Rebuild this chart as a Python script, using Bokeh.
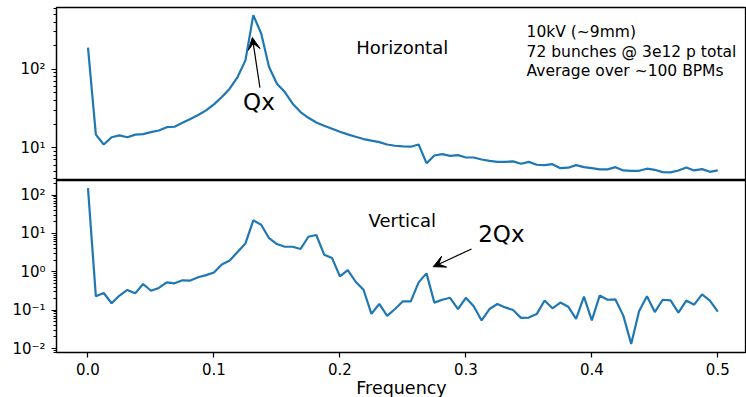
from bokeh.plotting import figure
from bokeh.layouts import column
from bokeh.models import (Label, Arrow, VeeHead, FixedTicker, CustomJSTickFormatter,
                          Range1d, ColumnDataSource, PrintfTickFormatter)
from bokeh.embed import file_html
from bokeh.resources import INLINE

FONT = "DejaVu Sans"
BLUE = "#1f77b4"

freq = [i / 160 for i in range(81)]

horizontal = [189, 14.7, 11.0, 13.6, 14.4, 13.6, 14.7, 14.9, 15.8, 16.6,
              18.3, 18.5, 20.8, 23.2, 26.1, 29.9, 35.7, 44.3, 56.6, 79.7,
              130, 490, 286, 107, 65.6, 51.3, 36.5, 28.5, 24.1, 21.0,
              19.1, 17.5, 16.0, 14.8, 13.8, 12.9, 12.3, 11.8, 11.0, 10.6,
              10.4, 10.3, 11.0, 6.35, 7.95, 8.27, 7.88, 8.04, 7.51, 7.5,
              7.08, 6.81, 6.6, 6.6, 6.69, 6.24, 6.6, 6.07, 6.0, 6.17,
              5.49, 5.56, 6.0, 5.65, 5.49, 5.29, 5.29, 5.65, 5.13, 5.08,
              5.08, 5.4, 5.23, 4.88, 4.84, 5.13, 5.6, 5.13, 5.33, 4.93,
              5.13]

vertical = [152, 0.229, 0.28, 0.151, 0.24, 0.336, 0.274, 0.48, 0.32, 0.38,
            0.53, 0.5, 0.6, 0.59, 0.72, 0.82, 0.96, 1.55, 1.96, 3.3,
            5.5, 22, 16.9, 7.5, 5.3, 4.5, 4.5, 3.93, 8.2, 9.1,
            2.79, 2.29, 0.76, 1.11, 0.55, 0.34, 0.08, 0.145, 0.071, 0.107,
            0.17, 0.17, 0.53, 0.91, 0.157, 0.187, 0.21, 0.107, 0.21, 0.126,
            0.054, 0.107, 0.145, 0.118, 0.101, 0.063, 0.064, 0.079, 0.178, 0.112,
            0.158, 0.123, 0.059, 0.224, 0.054, 0.24, 0.187, 0.19, 0.072, 0.0132,
            0.093, 0.229, 0.089, 0.187, 0.18, 0.086, 0.178, 0.139, 0.257, 0.178,
            0.091]

x_ticks = [0.0, 0.1, 0.2, 0.3, 0.4, 0.5]
top_ticks = [1, 10, 100, 1000]
bottom_ticks = [0.001, 0.01, 0.1, 1, 10, 100, 1000]
minor = [m * 10.0 ** e for e in range(-4, 4) for m in range(2, 10)]

info_lines = ["10kV (~9mm)", "72 bunches @ 3e12 p total", "Average over ~100 BPMs"]

src = ColumnDataSource(dict(f=freq, h=horizontal, v=vertical))

x_range = Range1d(-0.025, 0.5228)

sup_fmt = CustomJSTickFormatter(code="""
const e = Math.round(Math.log10(tick));
const m = {'-':'\u207b','0':'\u2070','1':'\u00b9','2':'\u00b2','3':'\u00b3','4':'\u2074','5':'\u2075','6':'\u2076','7':'\u2077','8':'\u2078','9':'\u2079'};
return '10' + String(e).split('').map(c => m[c]).join('');
""")


def style(p, yticks):
    p.grid.visible = False
    p.outline_line_color = "black"
    p.outline_line_width = 1.3
    p.outline_line_alpha = 1.0
    p.background_fill_color = "white"
    p.border_fill_color = "white"
    ya = p.yaxis[0]
    ya.ticker = FixedTicker(ticks=yticks, minor_ticks=minor)
    ya.formatter = sup_fmt
    ya.axis_line_color = "black"
    ya.axis_line_width = 1.2
    ya.major_tick_line_color = "black"
    ya.minor_tick_line_color = "black"
    ya.major_tick_line_width = 1.2
    ya.minor_tick_line_width = 1.0
    ya.major_tick_out = 5
    ya.major_tick_in = 0
    ya.minor_tick_out = 3
    ya.minor_tick_in = 0
    ya.major_label_text_font = FONT
    ya.major_label_text_font_size = "15px"
    ya.major_label_text_color = "black"
    ya.major_label_standoff = 6


top = figure(frame_width=690, frame_height=173, x_range=x_range,
             y_range=Range1d(3.82, 614), y_axis_type="log",
             x_axis_location=None, toolbar_location=None,
             output_backend="svg", min_border_left=56, min_border_right=0,
             min_border_top=7, min_border_bottom=0)
style(top, top_ticks)
top.line("f", "h", source=src, line_color=BLUE, line_width=2.2)

top.add_layout(Label(x=0.2495, y=187, text="Horizontal", text_font=FONT,
                     text_font_size="18px", text_align="center",
                     text_baseline="middle", text_color="black"))
for txt, yy in zip(info_lines, [299, 166, 95]):
    top.add_layout(Label(x=0.3482, y=yy, text=txt, text_font=FONT,
                         text_font_size="15.5px", text_align="left",
                         text_baseline="middle", text_color="black"))
top.add_layout(Label(x=0.1357, y=38.2, text="Qx", text_font=FONT,
                     text_font_size="23px", text_align="center",
                     text_baseline="middle", text_color="black"))
top.add_layout(Arrow(end=VeeHead(size=12, fill_color="black", line_color="black"),
                     x_start=0.1365, y_start=58.4, x_end=0.1305, y_end=254,
                     line_color="black", line_width=1.2))

bot = figure(frame_width=690, frame_height=172, x_range=x_range,
             y_range=Range1d(0.00787, 240), y_axis_type="log",
             toolbar_location=None, output_backend="svg",
             min_border_left=56, min_border_right=0,
             min_border_top=0, min_border_bottom=45)
style(bot, bottom_ticks)
bot.line("f", "v", source=src, line_color=BLUE, line_width=2.2)
xa = bot.xaxis[0]
xa.ticker = FixedTicker(ticks=x_ticks, minor_ticks=[])
xa.formatter = PrintfTickFormatter(format="%.1f")
xa.axis_line_color = "black"
xa.axis_line_width = 1.2
xa.major_tick_line_color = "black"
xa.major_tick_line_width = 1.2
xa.major_tick_out = 5
xa.major_tick_in = 0
xa.major_label_text_font = FONT
xa.major_label_text_font_size = "15px"
xa.major_label_text_color = "black"
xa.major_label_standoff = 5
xa.axis_label = "Frequency"
xa.axis_label_text_font = FONT
xa.axis_label_text_font_size = "17.5px"
xa.axis_label_text_font_style = "normal"
xa.axis_label_text_color = "black"
xa.axis_label_standoff = 0

bot.add_layout(Label(x=0.2495, y=21.4, text="Vertical", text_font=FONT,
                     text_font_size="18px", text_align="center",
                     text_baseline="middle", text_color="black"))
bot.add_layout(Label(x=0.3282, y=9.8, text="2Qx", text_font=FONT,
                     text_font_size="23px", text_align="center",
                     text_baseline="middle", text_color="black"))
bot.add_layout(Arrow(end=VeeHead(size=12, fill_color="black", line_color="black"),
                     x_start=0.3045, y_start=3.93, x_end=0.2741, y_end=1.36,
                     line_color="black", line_width=1.2))

layout = column(top, bot, spacing=0)
open("out.html", "w").write(file_html(layout, INLINE))
